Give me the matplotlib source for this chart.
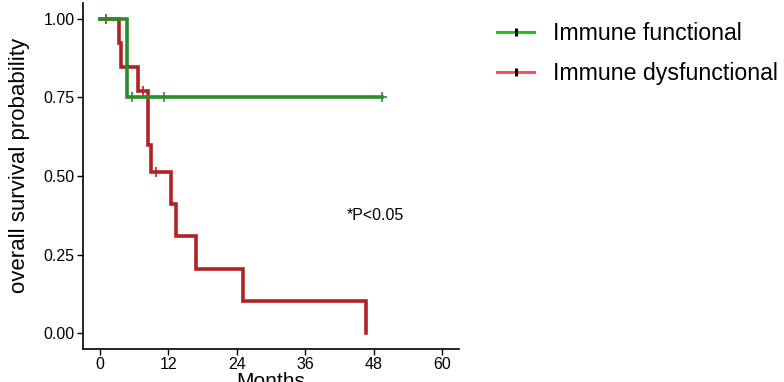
import numpy as np
import matplotlib
matplotlib.use("Agg")
import matplotlib.pyplot as plt
from matplotlib.lines import Line2D

plt.rcParams['font.family'] = ['Liberation Sans', 'DejaVu Sans']

# Kaplan-Meier step curves (months, survival)
func_times = [0, 4.7]
func_surv = [1.0, 0.75]
func_end = 49.4
func_censor = [5.6, 11.2, 49.4]

dys_times = [0, 3.3, 3.6, 6.6, 8.4, 8.95, 12.4, 13.3, 16.9, 25.1, 46.6]
dys_surv = [1.0, 0.923, 0.846, 0.769, 0.598, 0.513, 0.410, 0.308, 0.205, 0.103, 0.0]
dys_end = 46.6
dys_censor = [1.0, 7.6, 9.8]

x_ticks = [0, 12, 24, 36, 48, 60]
y_ticks = [0.0, 0.25, 0.5, 0.75, 1.0]
group_names = ["Immune functional", "Immune dysfunctional"]
p_text = "*P<0.05"


def surv_at(times, surv, t):
    idx = np.searchsorted(times, t, side='right') - 1
    return np.array(surv)[idx]


fig = plt.figure(figsize=(7.84, 3.82), dpi=100)
ax = fig.add_axes([83 / 784, 1 - 349 / 382, 376 / 784, 346 / 382])

curves = [
    (dys_times, dys_surv, dys_end, dys_censor, '#b22222'),
    (func_times, func_surv, func_end, func_censor, '#2a8c2a'),
]
for times, surv, end, cens, col in curves:
    ax.step(list(times) + [end], list(surv) + [surv[-1]], where='post',
            color=col, lw=2.6, solid_joinstyle='miter')
    ax.plot(cens, surv_at(times, surv, cens), ls='none', marker='+',
            ms=7, mew=1.2, color=col)

ax.text(43.3, 0.373, p_text, fontsize=11.5, va='center', ha='left')

ax.set_xlim(-3, 63)
ax.set_ylim(-0.05, 1.05)
ax.set_xticks(x_ticks)
ax.set_xticklabels([str(t) for t in x_ticks])
ax.set_yticks(y_ticks)
ax.set_yticklabels([f"{v:.2f}" for v in y_ticks])
ax.tick_params(labelsize=11.5, length=4, width=1, colors='black', pad=2)
for s in ['top', 'right']:
    ax.spines[s].set_visible(False)
for s in ['left', 'bottom']:
    ax.spines[s].set_linewidth(1.2)
ax.set_xlabel("Months", fontsize=15, labelpad=0)
ax.set_ylabel("overall survival probability", fontsize=16, labelpad=3)
ax.yaxis.set_label_coords(-0.142, 0.53)

# legend keys with a small censor tick
handles = [
    Line2D([], [], color='#22c422', lw=2.2, marker='|', ms=6, mew=2.2,
           mec='black'),
    Line2D([], [], color='#f55555', lw=2.2, marker='|', ms=6, mew=2.2,
           mec='black'),
]
fig.legend(handles, group_names, loc='upper left',
           bbox_to_anchor=(497 / 784, 1 - 22 / 382), frameon=False,
           fontsize=16.7, handlelength=1.6, handletextpad=0.8,
           labelspacing=0.72, borderaxespad=0, borderpad=0)

fig.savefig("out.png", dpi=100)
